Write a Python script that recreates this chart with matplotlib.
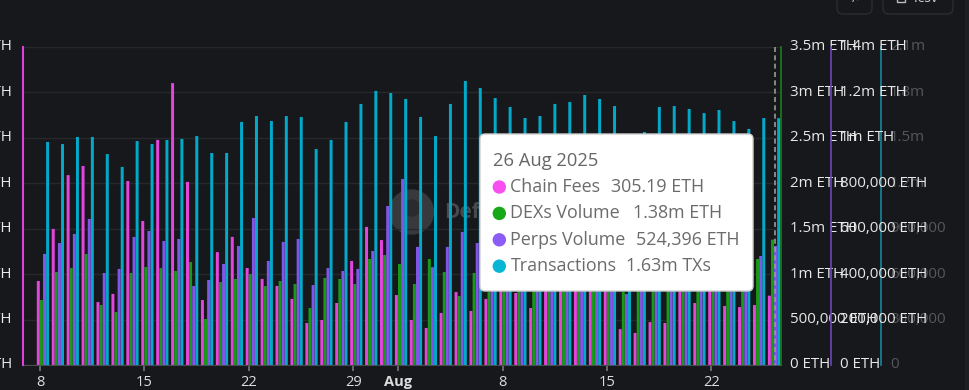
import numpy as np
import matplotlib
matplotlib.use("Agg")
import matplotlib.pyplot as plt
from matplotlib.patches import Circle, FancyBboxPatch, Rectangle
from matplotlib.transforms import ScaledTranslation

plt.rcParams['font.family'] = ['Open Sans', 'DejaVu Sans']

# daily values, 8 Jul to 26 Aug 2025 (bars behind the tooltip are guesses)
chain_fees = [370, 599, 836, 876, 277, 313, 810, 634, 991, 1241, 806, 286, 497, 564, 427, 379, 348,
              291, 185, 198, 273, 458, 608, 550, 308, 198, 163, 229, 321, 238, 291, 352, 317, 251,
              374, 396, 352, 374, 383, 158, 141, 189, 185, 365, 273, 374, 260, 255, 264, 305.19]
dex_volume = [715, 1024, 1068, 1222, 660, 583, 1013, 1079, 1068, 1035, 1134, 506, 913, 947, 1002, 869,
              924, 891, 627, 958, 947, 891, 1167, 1211, 1112, 891, 1167, 1024, 759, 1013, 803, 1100,
              1046, 991, 1134, 1178, 1068, 1100, 1024, 803, 1046, 1090, 1002, 1068, 1024, 1134, 991,
              991, 1167, 1380]
perps_volume = [489, 537, 577, 643, 405, 423, 564, 590, 546, 555, 348, 374, 445, 524, 647, 458, 542,
                555, 352, 427, 414, 423, 502, 700, 819, 520, 431, 520, 586, 537, 453, 484, 506, 550,
                528, 559, 506, 484, 498, 313, 462, 506, 453, 515, 484, 506, 453, 471, 480, 524.396]
transactions = [1473, 1459, 1506, 1506, 1393, 1308, 1479, 1459, 1486, 1493, 1512, 1400, 1400, 1605,
                1644, 1611, 1644, 1638, 1426, 1486, 1605, 1724, 1810, 1796, 1757, 1638, 1512, 1724,
                1876, 1829, 1763, 1704, 1631, 1644, 1724, 1737, 1783, 1757, 1710, 1420, 1539, 1704,
                1710, 1691, 1664, 1684, 1611, 1559, 1631, 1630]

tick_days = [0, 7, 14, 21, 24, 31, 38, 45]
tick_labels = ['8', '15', '22', '29', 'Aug', '8', '15', '22']
fee_ticks = ['0 ETH', '200 ETH', '400 ETH', '600 ETH', '800 ETH', '1,000 ETH', '1,200 ETH', '1,400 ETH']
dex_ticks = ['0 ETH', '500,000 ETH', '1m ETH', '1.5m ETH', '2m ETH', '2.5m ETH', '3m ETH', '3.5m ETH']
perps_ticks = ['0 ETH', '200,000 ETH', '400,000 ETH', '600,000 ETH', '800,000 ETH', '1m ETH', '1.2m ETH', '1.4m ETH']
tx_ticks = ['0', '300,000', '600,000', '900,000', '1.2m', '1.5m', '1.8m', '2.1m']

tooltip_rows = [('Chain Fees', '305.19 ETH', '#f74ff0', 611.5),
                ('DEXs Volume', '1.38m ETH', '#16a816', 633),
                ('Perps Volume', '524,396 ETH', '#8b5cf6', 636.5),
                ('Transactions', '1.63m TXs', '#06b6d4', 626)]

BG = '#16181b'
days = np.arange(len(chain_fees))

fig = plt.figure(figsize=(9.69, 3.9), dpi=100, facecolor=BG)
pos = [23 / 969, 25 / 390, 758 / 969, 318 / 390]

# watermark sits under the bars
back = fig.add_axes([0, 0, 1, 1], zorder=0)
back.set_xlim(0, 969)
back.set_ylim(390, 0)
back.axis('off')
back.add_patch(Circle((411.5, 212), 22, color='#38393c'))
back.add_patch(Circle((412, 208), 8, color='#292b2e'))
back.text(444, 213, 'DefiLlama', color='#48494c', fontsize=15, fontweight='bold', va='center')

ax = fig.add_axes(pos, zorder=1)
ax.patch.set_visible(False)
ax.set_xlim((23 - 40) / 14.92, (781 - 40) / 14.92)
tx_ax = ax.twinx()
dex_ax = ax.twinx()
perps_ax = ax.twinx()
tx_ax.set_zorder(2)
dex_ax.set_zorder(3)
perps_ax.set_zorder(4)

w = 0.2
ax.bar(days - 0.114, chain_fees, w, color='#e445dc', snap=False)
dex_ax.bar(days + 0.094, np.array(dex_volume) * 1000, w, color='#179a17', snap=False)
perps_ax.bar(days + 0.302, np.array(perps_volume) * 1000, w, color='#8155e6', snap=False)
tx_ax.bar(days + 0.509, np.array(transactions) * 1000, w, color='#03a9c9', snap=False)

ax.set_ylim(0, 1400)
ax.set_yticks(np.arange(0, 1401, 200), fee_ticks)
ax.grid(axis='y', color='#26282b', linewidth=1)
ax.set_axisbelow(True)
ax.tick_params(axis='y', length=0, pad=8, colors='#e8e8e8', labelsize=10.8)
ax.set_xticks(tick_days, tick_labels)
ax.tick_params(axis='x', length=4, width=1.2, color='#777777', labelcolor='#dddddd', labelsize=10.5, pad=3)
ax.get_xticklabels()[4].set_fontweight('bold')
for s in ['top', 'right']:
    ax.spines[s].set_visible(False)
ax.spines['left'].set_color('#e040dc')
ax.spines['left'].set_linewidth(1.5)
ax.spines['left'].set_zorder(6)
ax.spines['bottom'].set_color('#4a4c4f')

axis_setup = [(dex_ax, 3.5e6, dex_ticks, 0, '#1a7f1a', '#e8e8e8'),
              (perps_ax, 1.4e6, perps_ticks, 50, '#6c46b8', '#e8e8e8'),
              (tx_ax, 2.1e6, tx_ticks, 100, '#17869c', '#55575a')]
for a, top, labels, out, line_col, text_col in axis_setup:
    a.set_ylim(0, top)
    a.set_yticks(np.linspace(0, top, 8), labels)
    a.tick_params(axis='y', length=0, pad=6.5, labelcolor=text_col, labelsize=10.8)
    for s in ['top', 'left', 'bottom']:
        a.spines[s].set_visible(False)
    a.spines['right'].set_position(('outward', out * 0.72))
    a.spines['right'].set_color(line_col)
    a.spines['right'].set_linewidth(1.2)

# y labels sit a little above their gridlines
lift = ScaledTranslation(0, 1.5 / 72, fig.dpi_scale_trans)
for a in [ax, dex_ax, perps_ax, tx_ax]:
    for lab in a.get_yticklabels():
        lab.set_transform(lab.get_transform() + lift)

# tooltip, crosshair and the buttons cut off at the top
front = fig.add_axes([0, 0, 1, 1], zorder=10)
front.patch.set_visible(False)
front.set_xlim(0, 969)
front.set_ylim(390, 0)
front.axis('off')
front.plot([775, 775], [47, 365], color='#9a9a9a', linewidth=1.2, linestyle=(0, (3, 2)))
front.add_patch(FancyBboxPatch((484, 138), 265, 149, boxstyle='round,pad=4,rounding_size=5',
                               facecolor='white', edgecolor='#cfcfcf', linewidth=1))
front.text(493, 161, '26 Aug 2025', color='#666666', fontsize=13.2, va='center')
for i, (name, val, col, val_x) in enumerate(tooltip_rows):
    y = 187 + i * 26.4
    front.add_patch(Circle((499.3, y), 6, color=col))
    front.text(510.5, y, name, color='#6b6b6b', fontsize=12.9, va='center')
    front.text(val_x, y, val, color='#6b6b6b', fontsize=12.9, va='center')
front.add_patch(FancyBboxPatch((837, -20), 35, 34, boxstyle='round,pad=0,rounding_size=6',
                               facecolor='none', edgecolor='#2b2d30', linewidth=1))
front.add_patch(FancyBboxPatch((883, -20), 70, 34, boxstyle='round,pad=0,rounding_size=6',
                               facecolor='none', edgecolor='#2b2d30', linewidth=1))
front.add_patch(Rectangle((897, -6), 8, 8, facecolor='none', edgecolor='#bbbbbb', linewidth=1))
front.text(914, 2, '.csv', color='#cccccc', fontsize=10, va='baseline')
front.text(855, 2, '</>', color='#cccccc', fontsize=9, va='baseline', ha='center')
front.add_patch(Rectangle((965, 0), 4, 390, facecolor='#1d1f22', edgecolor='none'))

plt.savefig('out.png', dpi=100, facecolor=BG)
